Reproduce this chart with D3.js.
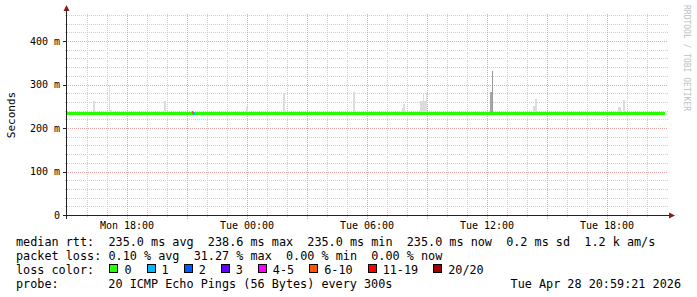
<!DOCTYPE html>
<html>
<head>
<meta charset="utf-8">
<script src="https://cdn.jsdelivr.net/npm/d3@7"></script>
<style>
  body { margin: 0; background: #fff; }
  svg text { font-family: "DejaVu Sans Mono", monospace; white-space: pre; }
</style>
</head>
<body>
<div id="chart"></div>
<script>
// SmokePing style latency graph (30 hours)
const timeStart = "2026-04-27T15:00";
const timeEnd = "2026-04-28T21:00";

// median rtt line (ms)
const medianStart = "2026-04-27T15:00";
const medianEnd = "2026-04-28T20:55";
const medianRtt = 235.0;

// smoke spikes
const smokeStart = ["2026-04-27T16:18", "2026-04-27T17:05", "2026-04-27T17:10", "2026-04-27T19:50",
  "2026-04-27T23:58", "2026-04-28T01:48", "2026-04-28T05:19", "2026-04-28T07:46", "2026-04-28T07:49",
  "2026-04-28T08:40", "2026-04-28T08:48", "2026-04-28T08:51", "2026-04-28T08:57", "2026-04-28T12:10",
  "2026-04-28T12:16", "2026-04-28T14:19", "2026-04-28T14:25", "2026-04-28T18:32", "2026-04-28T18:47"];
const smokeEnd = ["2026-04-27T16:24", "2026-04-27T17:10", "2026-04-27T17:15", "2026-04-27T19:56",
  "2026-04-28T00:02", "2026-04-28T01:54", "2026-04-28T05:25", "2026-04-28T07:49", "2026-04-28T07:55",
  "2026-04-28T08:48", "2026-04-28T08:51", "2026-04-28T08:57", "2026-04-28T09:00", "2026-04-28T12:16",
  "2026-04-28T12:19", "2026-04-28T14:25", "2026-04-28T14:31", "2026-04-28T18:42", "2026-04-28T18:54"];
const smokeTop = [262, 300, 242, 262, 248, 281, 283, 247, 256, 262, 281, 262, 281, 283, 331, 251, 267, 248, 264];
const smokeShade = ["light", "light", "light", "light", "light", "light", "light", "light", "light",
  "light", "light", "light", "light", "mid", "dark", "light", "light", "light", "light"];

// median segments coloured by packet loss
const lossStart = ["2026-04-27T21:16", "2026-04-27T21:19"];
const lossEnd = ["2026-04-27T21:19", "2026-04-27T21:25"];
const lossRtt = [237, 235];
const lossIndex = [5, 1];

const yTicks = [0, 100, 200, 300, 400];
const yMinor = [20, 40, 60, 80, 120, 140, 160, 180, 220, 240, 260, 280, 320, 340, 360, 380, 420, 440, 460];

const rttLabel = "median rtt:";
const rttStats = ["235.0 ms avg", "238.6 ms max", "235.0 ms min", "235.0 ms now", "0.2 ms sd", "1.2 k am/s"];
const lossLabel = "packet loss:";
const lossStats = ["0.10 % avg", "31.27 % max", "0.00 % min", "0.00 % now"];
const lossLegend = ["0", "1", "2", "3", "4-5", "6-10", "11-19", "20/20"];
const lossColors = ["#26ff00", "#00b8ff", "#0059ff", "#5e00ff", "#ff00ff", "#ff5500", "#ff0000", "#a10000"];
const probeText = "probe:       20 ICMP Echo Pings (56 Bytes) every 300s";
const stampText = "Tue Apr 28 20:59:21 2026";

const Chart = (() => {
  const CONFIG = {
    width: 697,
    height: 297,
    plot: { left: 67, right: 667, top: 15, bottom: 215 },
    yMax: 460,
    charW: 7.11,
  };

  const COLORS = {
    minor: "#cfcfcf",
    major: "#eaa4a4",
    axis: "#222",
    arrow: "#8b1a1a",
    text: "#000",
    smoke: { light: "#dcdcdc", mid: "#a8a8a8", dark: "#999999" },
    credit: "#c0c0c0",
  };

  const parse = (s) => new Date(s);

  function render() {
    const P = CONFIG.plot;
    const svg = d3.select("#chart").append("svg")
      .attr("width", CONFIG.width)
      .attr("height", CONFIG.height);

    svg.append("rect").attr("width", CONFIG.width).attr("height", CONFIG.height).attr("fill", "#fff");

    const x = d3.scaleTime().domain([parse(timeStart), parse(timeEnd)]).range([P.left, P.right]);
    const y = d3.scaleLinear().domain([0, CONFIG.yMax]).range([P.bottom, P.top]);
    const px = (v) => Math.round(v) + 0.5;

    // horizontal grid
    const grid = svg.append("g").attr("shape-rendering", "crispEdges");
    grid.selectAll(".hminor").data(yMinor).enter().append("line")
      .attr("x1", P.left - 2).attr("x2", P.right + 1)
      .attr("y1", (d) => px(y(d))).attr("y2", (d) => px(y(d)))
      .attr("stroke", COLORS.minor).attr("stroke-dasharray", "1,1");
    grid.selectAll(".hmajor").data(yTicks.filter((d) => d > 0)).enter().append("line")
      .attr("x1", P.left - 3).attr("x2", P.right + 1)
      .attr("y1", (d) => px(y(d))).attr("y2", (d) => px(y(d)))
      .attr("stroke", COLORS.major).attr("stroke-dasharray", "1,1");

    // vertical grid: minor each hour, major every 3h
    const hours = d3.timeHour.every(1).range(d3.timeHour.offset(x.domain()[0], 1), x.domain()[1]);
    grid.selectAll(".vgrid").data(hours).enter().append("line")
      .attr("x1", (d) => px(x(d))).attr("x2", (d) => px(x(d)))
      .attr("y1", P.top - 1)
      .attr("y2", (d) => (d.getHours() % 3 === 0 ? P.bottom + 4 : P.bottom + 2))
      .attr("stroke", (d) => (d.getHours() % 3 === 0 ? COLORS.major : COLORS.minor))
      .attr("stroke-dasharray", "1,1");

    // smoke
    const smoke = smokeStart.map((s, i) => ({
      start: parse(s), end: parse(smokeEnd[i]), top: smokeTop[i], shade: smokeShade[i],
    }));
    svg.append("g").attr("shape-rendering", "crispEdges")
      .selectAll("rect").data(smoke).enter().append("rect")
      .attr("x", (d) => Math.round(x(d.start)))
      .attr("width", (d) => Math.max(1, Math.round(x(d.end)) - Math.round(x(d.start))))
      .attr("y", (d) => Math.round(y(d.top)))
      .attr("height", (d) => Math.round(y(medianRtt)) - Math.round(y(d.top)))
      .attr("fill", (d) => COLORS.smoke[d.shade]);

    // median line
    svg.append("rect")
      .attr("shape-rendering", "crispEdges")
      .attr("x", x(parse(medianStart)))
      .attr("width", x(parse(medianEnd)) - x(parse(medianStart)))
      .attr("y", Math.round(y(medianRtt)) - 1.5)
      .attr("height", 3)
      .attr("fill", lossColors[0]);

    const lossSeg = lossStart.map((s, i) => ({
      start: parse(s), end: parse(lossEnd[i]), rtt: lossRtt[i], color: lossColors[lossIndex[i]],
    }));
    svg.append("g").attr("shape-rendering", "crispEdges")
      .selectAll("rect").data(lossSeg).enter().append("rect")
      .attr("x", (d) => Math.round(x(d.start)))
      .attr("width", (d) => Math.max(1, Math.round(x(d.end)) - Math.round(x(d.start))))
      .attr("y", (d) => Math.round(y(d.rtt)) - 1.5)
      .attr("height", 3)
      .attr("fill", (d) => d.color);

    // axes
    const axes = svg.append("g").attr("shape-rendering", "crispEdges");
    axes.append("line")
      .attr("x1", P.left - 0.5).attr("x2", P.left - 0.5)
      .attr("y1", P.bottom + 4).attr("y2", P.top - 5)
      .attr("stroke", COLORS.axis);
    axes.append("line")
      .attr("x1", P.left - 4).attr("x2", P.right + 3)
      .attr("y1", P.bottom + 0.5).attr("y2", P.bottom + 0.5)
      .attr("stroke", COLORS.axis);
    yTicks.forEach((t) => {
      axes.append("line")
        .attr("x1", P.left - 4).attr("x2", P.left)
        .attr("y1", px(y(t))).attr("y2", px(y(t)))
        .attr("stroke", COLORS.axis);
    });
    // arrow heads
    svg.append("path")
      .attr("d", `M${P.left - 3.5},${P.top - 4} L${P.left - 0.5},${P.top - 10} L${P.left + 2.5},${P.top - 4} Z`)
      .attr("fill", COLORS.arrow);
    svg.append("path")
      .attr("d", `M${P.right + 2},${P.bottom - 2.5} L${P.right + 8},${P.bottom + 0.5} L${P.right + 2},${P.bottom + 3.5} Z`)
      .attr("fill", COLORS.arrow);

    // y labels
    svg.append("g").selectAll("text").data(yTicks).enter().append("text")
      .attr("x", P.left - 7)
      .attr("y", (d) => y(d) + 3.5)
      .attr("text-anchor", "end")
      .attr("font-size", "10px")
      .attr("fill", COLORS.text)
      .text((d) => (d === 0 ? "0" : `${d} m`));

    // x labels
    const fmt = d3.timeFormat("%a %H:%M");
    svg.append("g").selectAll("text").data(d3.timeHour.every(6).range(x.domain()[0], x.domain()[1]).filter((d) => d > x.domain()[0]))
      .enter().append("text")
      .attr("x", (d) => x(d))
      .attr("y", P.bottom + 13.5)
      .attr("text-anchor", "middle")
      .attr("font-size", "10px")
      .attr("fill", COLORS.text)
      .text((d) => fmt(d));

    // axis title
    svg.append("text")
      .attr("transform", `translate(14.5, ${(P.top + P.bottom) / 2}) rotate(-90)`)
      .attr("text-anchor", "middle")
      .attr("font-size", "11px")
      .attr("fill", COLORS.text)
      .text("Seconds");

    // credit
    svg.append("text")
      .attr("transform", "translate(684, 5) rotate(90)")
      .attr("font-size", "8px")
      .attr("fill", COLORS.credit)
      .text("RRDTOOL / TOBI OETIKER");

    // legend
    const L = svg.append("g").attr("font-size", "11.8px").attr("fill", COLORS.text);
    const rowY = [245.5, 259.5, 273.5, 287.5];
    const x0 = 16;
    const colX = x0 + 13 * CONFIG.charW;
    L.append("text").attr("x", x0).attr("y", rowY[0]).text(rttLabel);
    L.append("text").attr("x", colX).attr("y", rowY[0]).text(rttStats.join("  "));
    L.append("text").attr("x", x0).attr("y", rowY[1]).text(lossLabel);
    L.append("text").attr("x", colX).attr("y", rowY[1]).text(lossStats.join("  "));
    L.append("text").attr("x", x0).attr("y", rowY[2]).text("loss color:");

    let bx = colX + 1;
    lossLegend.forEach((lab, i) => {
      L.append("rect")
        .attr("x", Math.round(bx) + 0.5).attr("y", rowY[2] - 9.5)
        .attr("width", 8).attr("height", 8)
        .attr("fill", lossColors[i]).attr("stroke", "#000")
        .attr("shape-rendering", "crispEdges");
      const tx = bx + 15;
      L.append("text").attr("x", tx).attr("y", rowY[2]).text(lab);
      bx = tx + lab.length * CONFIG.charW + 15;
    });

    L.append("text").attr("x", x0).attr("y", rowY[3]).text(probeText);
    L.append("text").attr("x", 681).attr("y", rowY[3]).attr("text-anchor", "end").text(stampText);
  }

  return { render };
})();

Chart.render();
</script>
</body>
</html>
